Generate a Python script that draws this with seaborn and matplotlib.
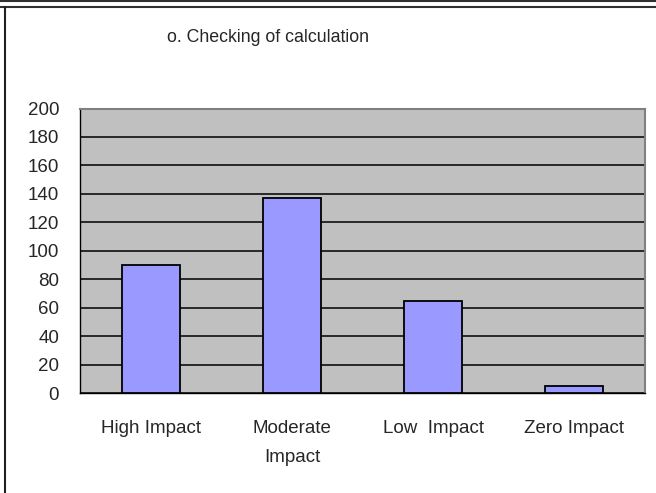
import matplotlib
matplotlib.use('Agg')
import matplotlib.pyplot as plt
import seaborn as sns
import pandas as pd
from matplotlib.lines import Line2D

# chart data
categories = ['High Impact', 'Moderate\nImpact', 'Low  Impact', 'Zero Impact']
counts = [90, 137, 65, 5]
y_ticks = list(range(0, 201, 20))

df = pd.DataFrame({'impact': categories, 'count': counts})

sns.set_style('white')
plt.rcParams['font.family'] = ['Liberation Sans', 'DejaVu Sans']

fig = plt.figure(figsize=(6.56, 4.93), dpi=100)
ax = fig.add_axes([80 / 656, 100 / 493, 565 / 656, 284.5 / 493])
ax.set_facecolor('#C0C0C0')

sns.barplot(data=df, x='impact', y='count', color='#9999FF', saturation=1,
            edgecolor='black', linewidth=1.3, width=0.41, ax=ax, zorder=3)

ax.set_ylim(0, 200)
ax.set_xlim(-0.5, len(categories) - 0.5)
ax.set_yticks(y_ticks)
ax.yaxis.grid(True, color='black', linewidth=1.1, zorder=0)
ax.set_axisbelow(True)
ax.set_xlabel('')
ax.set_ylabel('')

# category boundaries carry the tick marks
ax.set_xticks([i - 0.5 for i in range(len(categories) + 1)], minor=True)
ax.tick_params(axis='x', which='major', length=0, pad=19.5, labelsize=13.5)
ax.tick_params(axis='x', which='minor', length=5, width=1, color='black', direction='out')
ax.tick_params(axis='y', length=4, width=1, color='black', direction='out', pad=11, labelsize=13.5)
for lbl in ax.get_xticklabels():
    lbl.set_linespacing(1.9)

for side in ['top', 'right']:
    ax.spines[side].set_color('#808080')
    ax.spines[side].set_linewidth(1.5)
ax.spines['left'].set_color('black')
ax.spines['bottom'].set_color('black')
ax.spines['left'].set_linewidth(1)
ax.spines['bottom'].set_linewidth(1)

fig.text(268 / 656, 1 - 37 / 493, 'o. Checking of calculation', ha='center', va='center', fontsize=12.8)

# outer frame lines of the chart box
fig.add_artist(Line2D([0, 1], [1 - 1 / 493, 1 - 1 / 493], color='#303030', linewidth=1.5, transform=fig.transFigure))
fig.add_artist(Line2D([0, 1], [1 - 6.5 / 493, 1 - 6.5 / 493], color='#303030', linewidth=1.5, transform=fig.transFigure))
fig.add_artist(Line2D([4.5 / 656, 4.5 / 656], [0, 1 - 6.5 / 493], color='#202020', linewidth=1.5, transform=fig.transFigure))

fig.savefig('out.png', dpi=100)
